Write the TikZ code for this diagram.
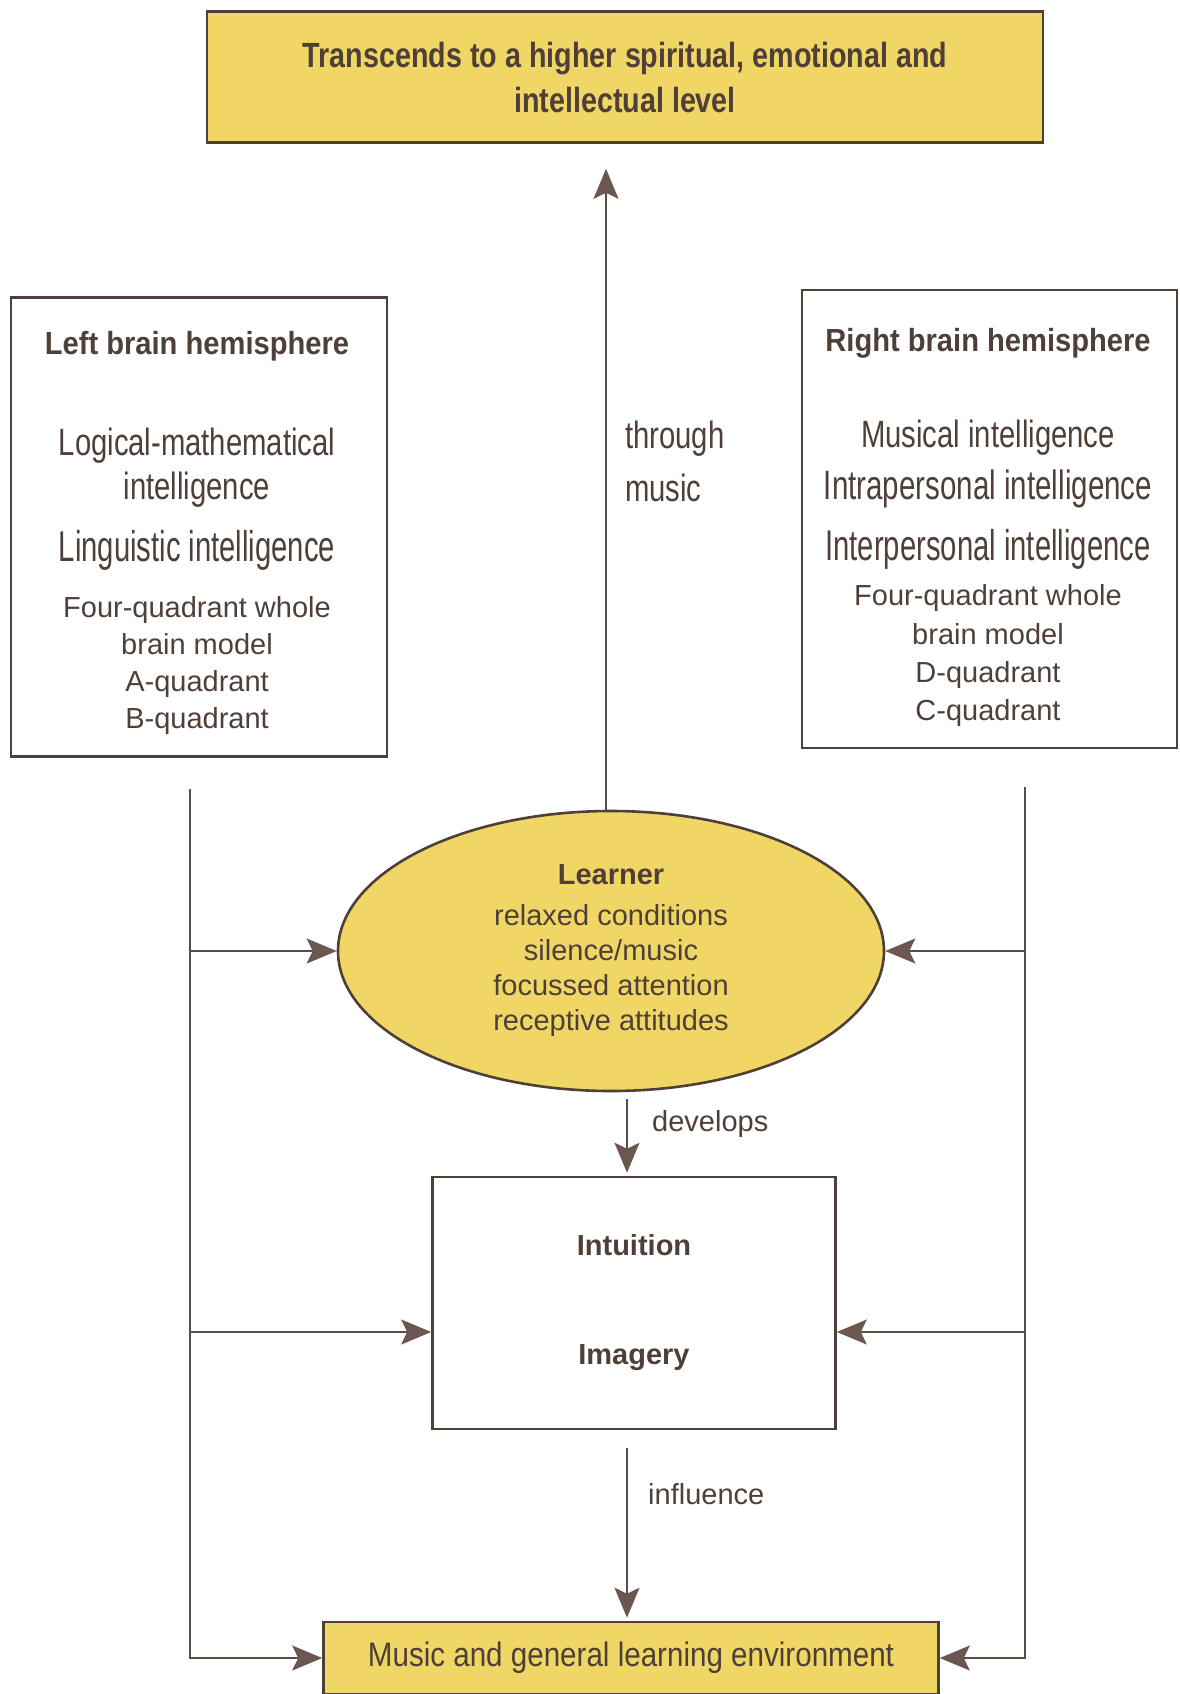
\documentclass[tikz,border=0pt]{standalone}
\usepackage{fontspec}
\setmainfont{Liberation Sans}
\newfontfamily\goalfont[FakeStretch=0.82]{Liberation Sans}
\newfontfamily\headfont[FakeStretch=0.91]{Liberation Sans}
\newfontfamily\narrowA[FakeStretch=0.77]{Liberation Sans}
\newfontfamily\narrowB[FakeStretch=0.72]{Liberation Sans}
\newfontfamily\narrowC[FakeStretch=0.68]{Liberation Sans}
\newfontfamily\envfont[FakeStretch=0.87]{Liberation Sans}
\usetikzlibrary{arrows.meta,shapes.geometric}
\definecolor{boxyellow}{RGB}{240,214,100}
\definecolor{inkbrown}{RGB}{78,64,56}
\definecolor{linebrown}{RGB}{92,76,68}
\definecolor{tipbrown}{RGB}{108,86,80}
\def\fsz#1{\fontsize{#1}{#1}\selectfont}
\tikzset{
	plainbox/.style={draw=inkbrown, line width=2.6pt, inner sep=0pt},
	yellowbox/.style={plainbox, fill=boxyellow},
	txt/.style={text=inkbrown, inner sep=0pt, anchor=base},
	link/.style={draw=linebrown, line width=1.6pt},
	arr/.style={link, -{Stealth[length=30pt,width=25pt,inset=6pt,color=tipbrown]}}
}

\begin{document}
\begin{tikzpicture}[x=1pt,y=-1pt]
			%%%%% START %%%%%
			\useasboundingbox (0,0) rectangle (1179,1694);
			
			\node[yellowbox, minimum width=836pt, minimum height=131pt, align=center, text=inkbrown, font=\goalfont\bfseries\fontsize{35}{45}\selectfont] (goal) at (625,77) {Transcends to a higher spiritual, emotional and\\intellectual level};
			
			%% left hemisphere
			\node[plainbox, minimum width=376pt, minimum height=459pt] (lbox) at (199,527) {};
			\node[txt, font=\headfont\bfseries\fsz{32}] (lhead) at (197,354) {Left brain hemisphere};
			\node[txt, font=\narrowA\fsz{38}] (lint1) at (197,455) {Logical-mathematical};
			\node[txt, font=\narrowA\fsz{38}] (lint2) at (197,499) {intelligence};
			\node[txt, font=\narrowC\fsz{43}] (lint3) at (197,561) {Linguistic intelligence};
			\node[txt, font=\fsz{29}] (lq1) at (197,617) {Four-quadrant whole};
			\node[txt, font=\fsz{29}] (lq2) at (197,654) {brain model};
			\node[txt, font=\fsz{29}] (lq3) at (197,691) {A-quadrant};
			\node[txt, font=\fsz{29}] (lq4) at (197,728) {B-quadrant};
			
			%% right hemisphere
			\node[plainbox, minimum width=375pt, minimum height=458pt] (rbox) at (989.5,519) {};
			\node[txt, font=\headfont\bfseries\fsz{32}] (rhead) at (988,351) {Right brain hemisphere};
			\node[txt, font=\narrowA\fsz{38}] (rint1) at (988,447) {Musical intelligence};
			\node[txt, font=\narrowB\fsz{41}] (rint2) at (988,499) {Intrapersonal intelligence};
			\node[txt, font=\narrowC\fsz{43}] (rint3) at (988,560) {Interpersonal intelligence};
			\node[txt, font=\fsz{29}] (rq1) at (988,605) {Four-quadrant whole};
			\node[txt, font=\fsz{29}] (rq2) at (988,644) {brain model};
			\node[txt, font=\fsz{29}] (rq3) at (988,682) {D-quadrant};
			\node[txt, font=\fsz{29}] (rq4) at (988,720) {C-quadrant};
			
			\node[txt, anchor=west, align=left, font=\narrowA\fontsize{38}{53}\selectfont] (thru) at (625,461) {through\\music};
			
			%% centre column
			\node[yellowbox, ellipse, minimum width=546pt, minimum height=280pt, align=center, text=inkbrown, font=\fontsize{29}{35}\selectfont] (learner) at (611,951) {\textbf{Learner}\\[6pt]relaxed conditions\\silence/music\\focussed attention\\receptive attitudes};
			\node[plainbox, minimum width=403pt, minimum height=252pt, align=center, text=inkbrown, font=\bfseries\fontsize{29}{35}\selectfont] (mind) at (634,1303) {Intuition\\[74pt]Imagery};
			\node[yellowbox, minimum width=615pt, minimum height=72pt, text=inkbrown, font=\envfont\fsz{34}] (env) at (631,1658) {Music and general learning environment};
			
			\node[txt, anchor=west, font=\fsz{29}] (dev) at (652,1124) {develops};
			\node[txt, anchor=west, font=\fsz{29}] (infl) at (648,1494) {influence};
			
			%% connectors
			\coordinate (up) at ([xshift=-5pt]learner.north);
			\draw[arr, shorten >=25pt] (up) -- (up |- goal.south);
			
			\coordinate (devtop) at ([xshift=16pt,yshift=-7pt]learner.south);
			\draw[arr, shorten >=3pt] (devtop) -- (devtop |- mind.north);
			\coordinate (inftop) at ([xshift=-7pt,yshift=-18pt]mind.south);
			\draw[arr, shorten >=3pt] (inftop) -- (inftop |- env.north);
			
			\coordinate (ltop) at (190,789);
			\coordinate (rtop) at (1025,787);
			\coordinate (mindL) at ([yshift=-29pt]mind.west);
			\coordinate (mindR) at ([yshift=-29pt]mind.east);
			
			\draw[arr] (ltop) |- (env.west);
			\draw[arr] (ltop |- learner.west) -- (learner.west);
			\draw[arr] (ltop |- mindL) -- (mindL);
			
			\draw[arr] (rtop) |- (env.east);
			\draw[arr] (rtop |- learner.east) -- (learner.east);
			\draw[arr] (rtop |- mindR) -- (mindR);
			
			%%%%% END %%%%%
\end{tikzpicture}
\end{document}
